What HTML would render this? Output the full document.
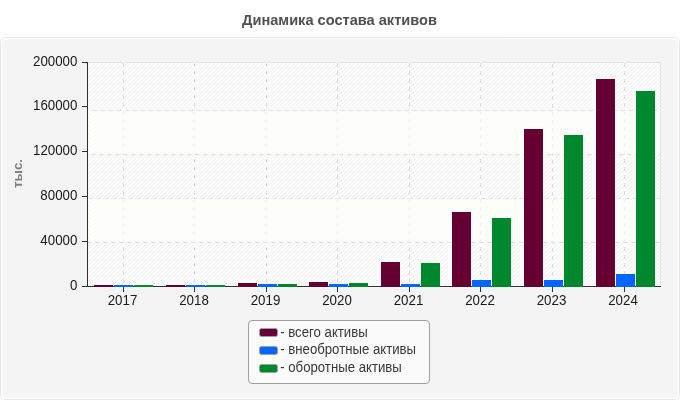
<!DOCTYPE html>
<html lang="ru"><head><meta charset="utf-8"><title>Динамика состава активов</title>
<style>
html,body{margin:0;padding:0;background:#fff;}
body{width:680px;height:400px;overflow:hidden;}
svg{display:block;will-change:transform;}
text{font-family:"Liberation Sans",Arial,Helvetica,sans-serif;}
</style></head><body>
<svg width="680" height="400" viewBox="0 0 680 400">
<defs>
<pattern id="hatch" patternUnits="userSpaceOnUse" width="4" height="4" x="0" y="2">
<rect width="4" height="4" fill="#ffffff"/>
<path d="M-1,1 L1,-1 M-1,5 L5,-1 M3,5 L5,3" stroke="#eeeeee" stroke-width="1" stroke-linecap="square"/>
</pattern>
<clipPath id="plot"><rect x="88" y="63" width="572" height="223"/></clipPath>
</defs>
<rect x="0.5" y="37.5" width="679" height="362" rx="5" ry="5" fill="#ffffff" stroke="#e6e6e6"/>
<rect x="2.3" y="39.2" width="675.4" height="358.3" rx="4" ry="4" fill="#f4f4f4"/>
<text x="339.5" y="25.1" text-anchor="middle" font-size="14.6" font-weight="bold" fill="#505050">Динамика состава активов</text>
<rect x="87" y="62" width="574" height="225" fill="#e2e2e2"/>
<rect x="88" y="63" width="572" height="223" fill="url(#hatch)"/>
<rect x="123" y="62" width="1" height="224" fill="#ffffff"/>
<rect x="124" y="63" width="1" height="223" fill="#ffffff" fill-opacity="0.6"/>
<line x1="123.5" y1="63" x2="123.5" y2="286" stroke="#dadada" stroke-dasharray="4 4" shape-rendering="crispEdges"/>
<rect x="194" y="62" width="1" height="224" fill="#ffffff"/>
<rect x="195" y="63" width="1" height="223" fill="#ffffff" fill-opacity="0.6"/>
<line x1="194.5" y1="63" x2="194.5" y2="286" stroke="#dadada" stroke-dasharray="4 4" shape-rendering="crispEdges"/>
<rect x="266" y="62" width="1" height="224" fill="#ffffff"/>
<rect x="267" y="63" width="1" height="223" fill="#ffffff" fill-opacity="0.6"/>
<line x1="266.5" y1="63" x2="266.5" y2="286" stroke="#dadada" stroke-dasharray="4 4" shape-rendering="crispEdges"/>
<rect x="337" y="62" width="1" height="224" fill="#ffffff"/>
<rect x="338" y="63" width="1" height="223" fill="#ffffff" fill-opacity="0.6"/>
<line x1="337.5" y1="63" x2="337.5" y2="286" stroke="#dadada" stroke-dasharray="4 4" shape-rendering="crispEdges"/>
<rect x="409" y="62" width="1" height="224" fill="#ffffff"/>
<rect x="410" y="63" width="1" height="223" fill="#ffffff" fill-opacity="0.6"/>
<line x1="409.5" y1="63" x2="409.5" y2="286" stroke="#dadada" stroke-dasharray="4 4" shape-rendering="crispEdges"/>
<rect x="480" y="62" width="1" height="224" fill="#ffffff"/>
<rect x="481" y="63" width="1" height="223" fill="#ffffff" fill-opacity="0.6"/>
<line x1="480.5" y1="63" x2="480.5" y2="286" stroke="#dadada" stroke-dasharray="4 4" shape-rendering="crispEdges"/>
<rect x="552" y="62" width="1" height="224" fill="#ffffff"/>
<rect x="553" y="63" width="1" height="223" fill="#ffffff" fill-opacity="0.6"/>
<line x1="552.5" y1="64" x2="552.5" y2="286" stroke="#dadada" stroke-dasharray="4 4" shape-rendering="crispEdges"/>
<rect x="624" y="62" width="1" height="224" fill="#ffffff"/>
<rect x="625" y="63" width="1" height="223" fill="#ffffff" fill-opacity="0.6"/>
<line x1="624.5" y1="63" x2="624.5" y2="286" stroke="#dadada" stroke-dasharray="4 4" shape-rendering="crispEdges"/>
<rect x="89" y="110" width="571" height="44" fill="#fefef8" fill-opacity="0.73"/>
<rect x="89" y="198" width="571" height="44" fill="#fefef8" fill-opacity="0.73"/>
<line x1="93" y1="110.5" x2="660" y2="110.5" stroke="#dedede" stroke-dasharray="4 4" shape-rendering="crispEdges"/>
<line x1="91" y1="154.5" x2="660" y2="154.5" stroke="#dedede" stroke-dasharray="4 4" shape-rendering="crispEdges"/>
<line x1="89" y1="198.5" x2="660" y2="198.5" stroke="#dedede" stroke-dasharray="4 4" shape-rendering="crispEdges"/>
<line x1="95" y1="242.5" x2="660" y2="242.5" stroke="#dedede" stroke-dasharray="4 4" shape-rendering="crispEdges"/>
<line x1="88" y1="242.5" x2="91" y2="242.5" stroke="#dedede" shape-rendering="crispEdges"/>
<rect x="87" y="287" width="574" height="1" fill="#fbfbfb"/>
<g stroke="#303030" shape-rendering="crispEdges">
<line x1="87.5" y1="62" x2="87.5" y2="287"/>
<line x1="87" y1="286.5" x2="661" y2="286.5"/>
<line x1="82" y1="62.5" x2="87" y2="62.5"/>
<line x1="82" y1="106.5" x2="87" y2="106.5"/>
<line x1="82" y1="151.5" x2="87" y2="151.5"/>
<line x1="82" y1="196.5" x2="87" y2="196.5"/>
<line x1="82" y1="241.5" x2="87" y2="241.5"/>
<line x1="82" y1="286.5" x2="87" y2="286.5"/>
<line x1="123.5" y1="287" x2="123.5" y2="292"/>
<line x1="194.5" y1="287" x2="194.5" y2="292"/>
<line x1="266.5" y1="287" x2="266.5" y2="292"/>
<line x1="337.5" y1="287" x2="337.5" y2="292"/>
<line x1="409.5" y1="287" x2="409.5" y2="292"/>
<line x1="480.5" y1="287" x2="480.5" y2="292"/>
<line x1="552.5" y1="287" x2="552.5" y2="292"/>
<line x1="624.5" y1="287" x2="624.5" y2="292"/>
</g>
<g shape-rendering="crispEdges">
<rect x="94" y="285" width="19" height="2" fill="#660033"/>
<rect x="114" y="285" width="19" height="2" fill="#0066ff"/>
<rect x="134" y="285" width="19" height="2" fill="#00882d"/>
<rect x="166" y="285" width="19" height="2" fill="#660033"/>
<rect x="186" y="285" width="19" height="2" fill="#0066ff"/>
<rect x="206" y="285" width="19" height="2" fill="#00882d"/>
<rect x="238" y="283" width="19" height="4" fill="#660033"/>
<rect x="258" y="284" width="19" height="3" fill="#0066ff"/>
<rect x="278" y="284" width="19" height="3" fill="#00882d"/>
<rect x="309" y="282" width="19" height="5" fill="#660033"/>
<rect x="329" y="284" width="19" height="3" fill="#0066ff"/>
<rect x="349" y="283" width="19" height="4" fill="#00882d"/>
<rect x="381" y="262" width="19" height="25" fill="#660033"/>
<rect x="401" y="284" width="19" height="3" fill="#0066ff"/>
<rect x="421" y="263" width="19" height="24" fill="#00882d"/>
<rect x="452" y="212" width="19" height="75" fill="#660033"/>
<rect x="472" y="280" width="19" height="7" fill="#0066ff"/>
<rect x="492" y="218" width="19" height="69" fill="#00882d"/>
<rect x="524" y="129" width="19" height="158" fill="#660033"/>
<rect x="544" y="280" width="19" height="7" fill="#0066ff"/>
<rect x="564" y="135" width="19" height="152" fill="#00882d"/>
<rect x="596" y="79" width="19" height="208" fill="#660033"/>
<rect x="616" y="274" width="19" height="13" fill="#0066ff"/>
<rect x="636" y="91" width="19" height="196" fill="#00882d"/>
</g>
<g font-size="13.33" fill="#1a1a1a" text-anchor="end">
<text transform="translate(77.4,66.1) scale(1,1.06)">200000</text>
<text transform="translate(77.4,110.1) scale(1,1.06)">160000</text>
<text transform="translate(77.4,155.1) scale(1,1.06)">120000</text>
<text transform="translate(77.4,200.1) scale(1,1.06)">80000</text>
<text transform="translate(77.4,245.1) scale(1,1.06)">40000</text>
<text transform="translate(77.4,290.1) scale(1,1.06)">0</text>
</g>
<g font-size="13.33" fill="#1a1a1a" text-anchor="middle">
<text transform="translate(122.5,305) scale(1,1.06)">2017</text>
<text transform="translate(194.0,305) scale(1,1.06)">2018</text>
<text transform="translate(265.5,305) scale(1,1.06)">2019</text>
<text transform="translate(337.0,305) scale(1,1.06)">2020</text>
<text transform="translate(408.5,305) scale(1,1.06)">2021</text>
<text transform="translate(480.0,305) scale(1,1.06)">2022</text>
<text transform="translate(551.5,305) scale(1,1.06)">2023</text>
<text transform="translate(623.0,305) scale(1,1.06)">2024</text>
</g>
<text transform="translate(22.4,173.5) rotate(-90)" text-anchor="middle" font-size="13.3" font-weight="bold" fill="#808080">тыс.</text>
<rect x="248.5" y="320.5" width="181" height="63" rx="3.5" ry="3.5" fill="#fafafa" stroke="#a0a0a0"/>
<rect x="259.5" y="328.5" width="18" height="8" rx="2" ry="2" fill="#660033" stroke="#a0a0a0"/>
<text transform="translate(280.2,336.8) scale(1,1.07)" font-size="13.2" fill="#383838">- всего активы</text>
<rect x="259.5" y="346.5" width="18" height="8" rx="2" ry="2" fill="#0066ff" stroke="#a0a0a0"/>
<text transform="translate(280.2,354.4) scale(1,1.07)" font-size="13.2" fill="#383838">- внеобротные активы</text>
<rect x="259.5" y="364.5" width="18" height="8" rx="2" ry="2" fill="#00882d" stroke="#a0a0a0"/>
<text transform="translate(280.2,372.0) scale(1,1.07)" font-size="13.2" fill="#383838">- оборотные активы</text>
</svg>
</body></html>
